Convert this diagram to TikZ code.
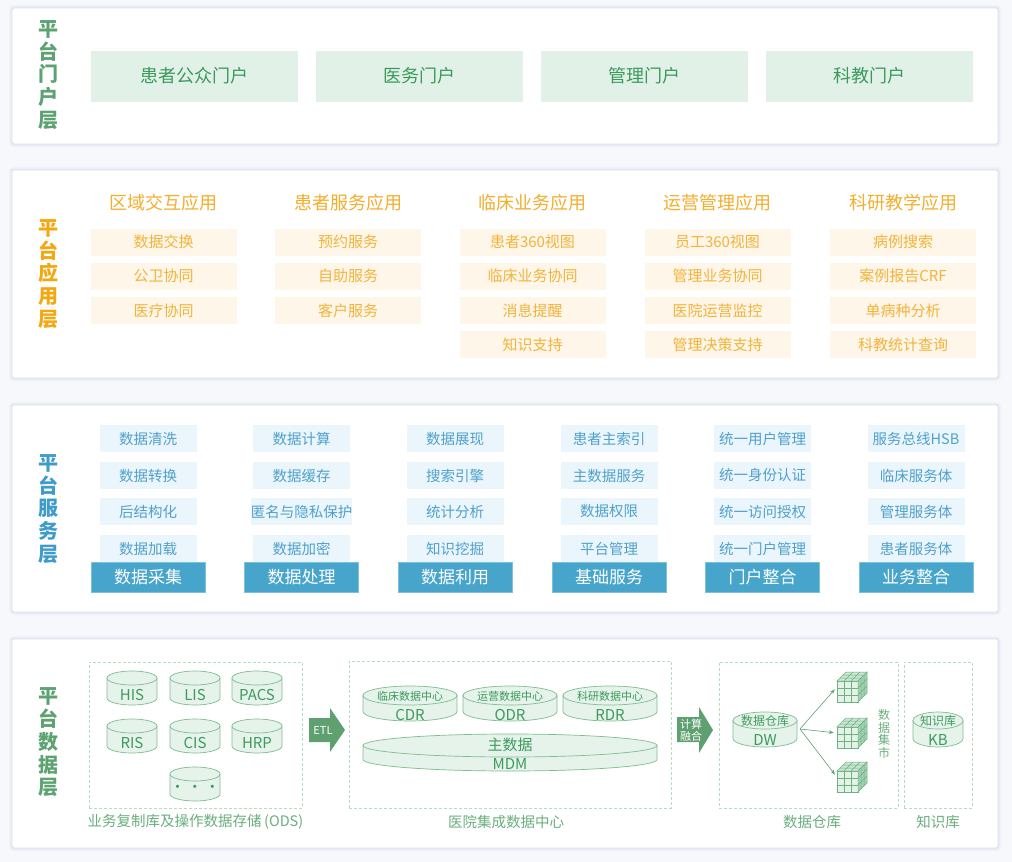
\documentclass[tikz,border=0pt]{standalone}
\usepackage{fontspec}
\setmainfont{Noto Sans CJK SC}
\usetikzlibrary{arrows.meta}
\definecolor{bgc}{HTML}{F7F8FB}
\definecolor{shadowc}{HTML}{DCE1F2}
\definecolor{gLabel}{HTML}{5DA271}
\definecolor{gFill}{HTML}{E2F1E8}
\definecolor{gText}{HTML}{3A9A5B}
\definecolor{oLabel}{HTML}{F5A70F}
\definecolor{oHead}{HTML}{F4AE2E}
\definecolor{oFill}{HTML}{FEF6E9}
\definecolor{oText}{HTML}{F3B33A}
\definecolor{bLabel}{HTML}{3D9CC9}
\definecolor{bFill}{HTML}{EBF5FC}
\definecolor{bText}{HTML}{4FA1CC}
\definecolor{bBig}{HTML}{47A5CC}
\definecolor{bBigEdge}{HTML}{7CC0DE}
\definecolor{dashc}{HTML}{B8DBC3}
\definecolor{cylFill}{HTML}{E5F3EA}
\definecolor{cylLine}{HTML}{7FBC90}
\definecolor{cylText}{HTML}{3E9A5E}
\definecolor{arrowG}{HTML}{5FA070}
\definecolor{subLabel}{HTML}{6BAE7F}
\definecolor{cubeFront}{HTML}{E4F2E8}
\definecolor{cubeTop}{HTML}{CBE6D3}
\definecolor{cubeSide}{HTML}{A3D1B2}
\definecolor{cubeLine}{HTML}{6DB282}

\newcommand\dbcyl[6]{%
  \pgfmathsetmacro\dbL{#2}\pgfmathsetmacro\dbR{#2+#4}\pgfmathsetmacro\dbM{#2+#4/2}%
  \pgfmathsetmacro\dbT{#3+#6}\pgfmathsetmacro\dbB{#3+#5-#6}\pgfmathsetmacro\dbX{#4/2}%
  \pgfmathsetmacro\dbC{#3+#5/2}%
  \path[cylbody] (\dbL,\dbT) -- (\dbL,\dbB) arc[start angle=180,end angle=0,x radius=\dbX,y radius=#6] -- (\dbR,\dbT) -- cycle;
  \path[cyltop] (\dbM,\dbT) ellipse[x radius=\dbX, y radius=#6];
  \node[inner sep=0, minimum width=#4, minimum height=#5] (#1) at (\dbM,\dbC) {};
}
\newcommand\mcube[3]{%
  \node[inner sep=0, minimum width=30, minimum height=30] (#1) at ({#2+15},{#3+15}) {};
  \begin{scope}[shift={(#2,#3)}, draw=cubeLine, line width=0.5]
    \filldraw[fill=cubeFront] (0,9) rectangle (21,30);
    \filldraw[fill=cubeTop] (0,9) -- (9,0) -- (30,0) -- (21,9) -- cycle;
    \filldraw[fill=cubeSide] (21,9) -- (30,0) -- (30,21) -- (21,30) -- cycle;
    \draw (7,9) -- (7,30) (14,9) -- (14,30) (0,16) -- (21,16) (0,23) -- (21,23);
    \draw (3,6) -- (24,6) (6,3) -- (27,3) (7,9) -- (16,0) (14,9) -- (23,0);
    \draw (24,6) -- (24,27) (27,3) -- (27,24) (21,16) -- (30,7) (21,23) -- (30,14);
  \end{scope}
}

\begin{document}
\begin{tikzpicture}[x=1pt,y=-1pt,
  panelbox/.style={fill=white, draw=shadowc, line width=0.8, rounded corners=2pt,
    preaction={draw=shadowc, line width=6, opacity=0.25},
    preaction={draw=shadowc, line width=3, opacity=0.5},
    inner sep=0, minimum width=986},
  layerlabel/.style={font=\bfseries\fontsize{20}{22.75}\selectfont, align=center, inner sep=0},
  portal/.style={fill=gFill, text=gText, font=\fontsize{18}{18}\selectfont, minimum width=207, minimum height=51, inner sep=0},
  apphead/.style={text=oHead, font=\fontsize{18}{18}\selectfont, inner sep=0},
  appbox/.style={fill=oFill, text=oText, font=\fontsize{15}{15}\selectfont, minimum width=146, minimum height=27, inner sep=0},
  svcbox/.style={fill=bFill, text=bText, font=\fontsize{14.5}{14.5}\selectfont, minimum width=97, minimum height=27, inner sep=0},
  svcbig/.style={fill=bBig, draw=bBigEdge, line width=0.6, text=white, font=\fontsize{17}{17}\selectfont, minimum width=114, minimum height=30, inner sep=0},
  dashbox/.style={draw=dashc, dashed, dash pattern=on 3pt off 2pt, line width=0.8},
  sublabel/.style={text=subLabel, font=\fontsize{14.5}{14.5}\selectfont, inner sep=0},
  cylbody/.style={fill=cylFill, draw=cylLine, line width=0.7},
  cyltop/.style={fill=cylFill, draw=cylLine, line width=0.7},
  cyltxt/.style={text=cylText, font=\fontsize{15}{15}\selectfont, inner sep=0},
  cylsmall/.style={text=cylText, font=\fontsize{11}{11}\selectfont, inner sep=0},
  bigarrow/.style={fill=arrowG},
  arrowtxt/.style={text=white, font=\fontsize{11}{12}\selectfont, align=center, inner sep=0},
  martarrow/.style={draw=arrowG, line width=0.6, -{Stealth[length=5pt,width=3.5pt]}, shorten >=3pt}
]
\useasboundingbox (0,0) rectangle (1012,862);
\fill[bgc] (0,0) rectangle (1012,862);

% ---------- panels ----------
\node[panelbox, minimum height=136] (p1) at (505,76) {};
\node[panelbox, minimum height=208] (p2) at (505,274) {};
\node[panelbox, minimum height=207] (p3) at (505,508.5) {};
\node[panelbox, minimum height=209] (p4) at (505,743.5) {};

% ---------- layer labels ----------
\node[layerlabel, text=gLabel] (l1) at (48.5,75) {平\\台\\门\\户\\层};
\node[layerlabel, text=oLabel] (l2) at (48.5,274) {平\\台\\应\\用\\层};
\node[layerlabel, text=bLabel] (l3) at (48.5,509) {平\\台\\服\\务\\层};
\node[layerlabel, text=gLabel] (l4) at (48.5,742.5) {平\\台\\数\\据\\层};

% ---------- portal layer ----------
\node[portal] (m1) at (194.5,76) {\raisebox{-2pt}{患者公众门户}};
\node[portal] (m2) at (419.5,76) {\raisebox{-2pt}{医务门户}};
\node[portal] (m3) at (644.5,76) {\raisebox{-2pt}{管理门户}};
\node[portal] (m4) at (869.5,76) {\raisebox{-2pt}{科教门户}};

% ---------- application layer ----------
\node[apphead] (h1) at (163.5,203) {区域交互应用};
\node[apphead] (h2) at (348,203) {患者服务应用};
\node[apphead] (h3) at (532.5,203) {临床业务应用};
\node[apphead] (h4) at (717.5,203) {运营管理应用};
\node[apphead] (h5) at (903,203) {科研教学应用};

\node[appbox] (a11) at (163.5,242) {数据交换};
\node[appbox] (a12) at (163.5,276) {公卫协同};
\node[appbox] (a13) at (163.5,310.5) {医疗协同};

\node[appbox] (a21) at (348,242) {预约服务};
\node[appbox] (a22) at (348,276) {自助服务};
\node[appbox] (a23) at (348,310.5) {客户服务};

\node[appbox] (a31) at (532.5,242) {患者360视图};
\node[appbox] (a32) at (532.5,276) {临床业务协同};
\node[appbox] (a33) at (532.5,310.5) {消息提醒};
\node[appbox] (a34) at (532.5,344.5) {知识支持};

\node[appbox] (a41) at (717.5,242) {员工360视图};
\node[appbox] (a42) at (717.5,276) {管理业务协同};
\node[appbox] (a43) at (717.5,310.5) {医院运营监控};
\node[appbox] (a44) at (717.5,344.5) {管理决策支持};

\node[appbox] (a51) at (903,242) {病例搜索};
\node[appbox] (a52) at (903,276) {案例报告CRF};
\node[appbox] (a53) at (903,310.5) {单病种分析};
\node[appbox] (a54) at (903,344.5) {科教统计查询};

% ---------- service layer ----------
\node[svcbox] (s11) at (148,438.5) {数据清洗};
\node[svcbox] (s12) at (148,475.5) {数据转换};
\node[svcbox] (s13) at (148,511.5) {后结构化};
\node[svcbox] (s14) at (148,548.5) {数据加载};
\node[svcbig] (S1) at (148,577) {数据采集};

\node[svcbox] (s21) at (301.5,438.5) {数据计算};
\node[svcbox] (s22) at (301.5,475.5) {数据缓存};
\node[svcbox] (s23) at (301.5,511.5) {匿名与隐私保护};
\node[svcbox] (s24) at (301.5,548.5) {数据加密};
\node[svcbig] (S2) at (301.5,577) {数据处理};

\node[svcbox] (s31) at (455,438.5) {数据展现};
\node[svcbox] (s32) at (455,475.5) {搜索引擎};
\node[svcbox] (s33) at (455,511.5) {统计分析};
\node[svcbox] (s34) at (455,548.5) {知识挖掘};
\node[svcbig] (S3) at (455,577) {数据利用};

\node[svcbox] (s41) at (609,438.5) {患者主索引};
\node[svcbox] (s42) at (609,475.5) {主数据服务};
\node[svcbox] (s43) at (609,511.5) {数据权限};
\node[svcbox] (s44) at (609,548.5) {平台管理};
\node[svcbig] (S4) at (609,577) {基础服务};

\node[svcbox] (s51) at (762.5,438.5) {统一用户管理};
\node[svcbox] (s52) at (762.5,475.5) {统一身份认证};
\node[svcbox] (s53) at (762.5,511.5) {统一访问授权};
\node[svcbox] (s54) at (762.5,548.5) {统一门户管理};
\node[svcbig] (S5) at (762.5,577) {门户整合};

\node[svcbox] (s61) at (916,438.5) {服务总线HSB};
\node[svcbox] (s62) at (916,475.5) {临床服务体};
\node[svcbox] (s63) at (916,511.5) {管理服务体};
\node[svcbox] (s64) at (916,548.5) {患者服务体};
\node[svcbig] (S6) at (916,577) {业务整合};

% ---------- data layer ----------
\node[dashbox, minimum width=213, minimum height=146, inner sep=0] (ods) at (195.5,735) {};
\node[dashbox, minimum width=322, minimum height=147, inner sep=0] (cdc) at (510,734.5) {};
\node[dashbox, minimum width=179, minimum height=146, inner sep=0] (dwbox) at (808.5,735) {};
\node[dashbox, minimum width=68, minimum height=146, inner sep=0] (kbbox) at (938,735) {};

\node[sublabel] (odsl) at (195.5,822) {业务复制库及操作数据存储\,(ODS)};
\node[sublabel] (cdcl) at (506,822) {医院集成数据中心};
\node[sublabel] (dwl) at (812,822) {数据仓库};
\node[sublabel] (kbl) at (938,822) {知识库};

% ODS cylinders
\dbcyl{his}{107}{671}{50}{34}{7}
\dbcyl{lis}{170}{671}{50}{34}{7}
\dbcyl{pacs}{232}{671}{50}{34}{7}
\dbcyl{ris}{107}{719}{50}{34}{7}
\dbcyl{cis}{170}{719}{50}{34}{7}
\dbcyl{hrp}{232}{719}{50}{34}{7}
\dbcyl{etc}{170}{767}{50}{34}{7}
\node[cyltxt] (this) at (132,695) {HIS};
\node[cyltxt] (tlis) at (195,695) {LIS};
\node[cyltxt] (tpacs) at (257,695) {PACS};
\node[cyltxt] (tris) at (132,743) {RIS};
\node[cyltxt] (tcis) at (195,743) {CIS};
\node[cyltxt] (thrp) at (257,743) {HRP};
\node[cyltxt] (tetc) at (195,789) {·\,·\,·};

% ETL arrow
\fill[bigarrow] (309,718) -- (330,718) -- (330,708) -- (345,730) -- (330,752) -- (330,742) -- (309,742) -- cycle;
\node[arrowtxt, font=\fontsize{11}{11}\selectfont] (etl) at (323,730) {ETL};

% CDC cylinders
\dbcyl{cdr}{363}{686}{94}{35}{9.5}
\dbcyl{odr}{463}{686}{94}{35}{9.5}
\dbcyl{rdr}{563}{686}{94}{35}{9.5}
\dbcyl{mdm}{363}{734}{294}{37}{11.5}
\node[cylsmall] (tcdr1) at (410,696) {临床数据中心};
\node[cyltxt] (tcdr2) at (410,715) {CDR};
\node[cylsmall] (todr1) at (510,696) {运营数据中心};
\node[cyltxt] (todr2) at (510,715) {ODR};
\node[cylsmall] (trdr1) at (610,696) {科研数据中心};
\node[cyltxt] (trdr2) at (610,715) {RDR};
\node[cyltxt] (tmdm1) at (510,745) {主数据};
\node[cyltxt] (tmdm2) at (510,764) {MDM};

% compute arrow
\fill[bigarrow] (677,717) -- (699,717) -- (699,707) -- (713,730) -- (699,753) -- (699,742) -- (677,742) -- cycle;
\node[arrowtxt] (calc) at (691,730) {计算\\融合};

% DW
\dbcyl{dw}{733}{712}{64}{35}{8.5}
\node[cylsmall, font=\fontsize{12}{12}\selectfont] (tdw1) at (765,721) {数据仓库};
\node[cyltxt] (tdw2) at (765,740) {DW};
\mcube{cubeA}{837}{672}
\mcube{cubeB}{837}{718}
\mcube{cubeC}{837}{762}
\coordinate (dwout) at (800,729);
\draw[martarrow] (dwout) -- (cubeA.west);
\draw[martarrow] (dwout) -- (cubeB.west);
\draw[martarrow] (dwout) -- (cubeC.west);
\node[text=subLabel, font=\fontsize{12}{12.5}\selectfont, align=center, inner sep=0] (mart) at (884,734) {数\\据\\集\\市};

% KB
\dbcyl{kb}{913}{712}{50}{35}{8.5}
\node[cylsmall, font=\fontsize{12}{12}\selectfont] (tkb1) at (938,721) {知识库};
\node[cyltxt] (tkb2) at (938,740) {KB};

\end{tikzpicture}
\end{document}
